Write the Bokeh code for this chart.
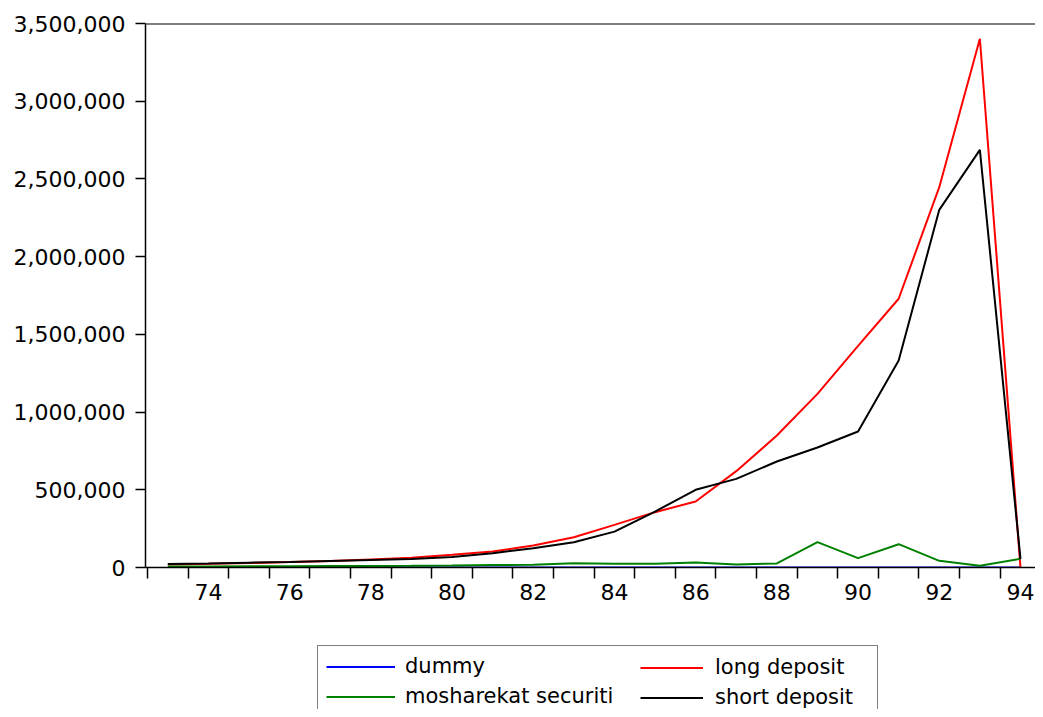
from bokeh.plotting import figure
from bokeh.layouts import column
from bokeh.models import Range1d, FixedTicker, NumeralTickFormatter, Span, Legend, LegendItem
from bokeh.embed import file_html
from bokeh.resources import INLINE

# ---- data ----
years = list(range(73, 95))
dummy = [0] * 22
long_deposit = [20000, 24000, 29000, 35000, 42000, 52000, 62000, 82000, 103000, 141000,
                195000, 274000, 356000, 425000, 620000, 849000, 1117000, 1426000,
                1729000, 2447000, 3402000, 0]
mosharekat_securiti = [6000, 7000, 8000, 8000, 9000, 10000, 11000, 13000, 16000, 18000,
                       27000, 24000, 24000, 32000, 19000, 26000, 163000, 60000, 150000,
                       43000, 11000, 56000]
short_deposit = [22000, 26000, 31000, 36000, 42000, 48000, 54000, 68000, 92000, 124000,
                 163000, 231000, 360000, 500000, 570000, 682000, 772000, 875000, 1332000,
                 2301000, 2687000, 56000]
y_ticks = [0, 500000, 1000000, 1500000, 2000000, 2500000, 3000000, 3500000]
x_label_years = [74, 76, 78, 80, 82, 84, 86, 88, 90, 92, 94]
x_minor_ticks = [y + 0.5 for y in range(72, 95)]

FONT = "DejaVu Sans"
W = 1035
MAIN_H = 622
TOTAL_H = 709

p = figure(width=W, height=MAIN_H, output_backend="svg", toolbar_location=None,
           x_range=Range1d(72.45, 94.37), y_range=Range1d(0, 3500000),
           min_border_left=145, min_border_right=0, min_border_top=23,
           min_border_bottom=MAIN_H - 567,
           background_fill_color="white", border_fill_color="white")
p.outline_line_color = None
p.xgrid.visible = False
p.ygrid.visible = False

r_dummy = p.line(years, dummy, line_color="#0000ff", line_width=2)
r_long = p.line(years, long_deposit, line_color="#ff0000", line_width=2)
r_mosh = p.line(years, mosharekat_securiti, line_color="#008000", line_width=2)
r_short = p.line(years, short_deposit, line_color="#000000", line_width=2)

# top border line
p.add_layout(Span(location=3500000, dimension="width", line_color="black", line_width=2))

# y axis
ya = p.yaxis[0]
ya.ticker = FixedTicker(ticks=y_ticks, minor_ticks=[])
ya.formatter = NumeralTickFormatter(format="0,0")
ya.major_tick_in = 0
ya.major_tick_out = 10
ya.minor_tick_in = 0
ya.minor_tick_out = 0
ya.major_label_standoff = 10
ya.axis_line_width = 1.5
ya.major_tick_line_width = 1.5
ya.major_label_text_font = FONT
ya.major_label_text_font_size = "22px"
ya.major_label_text_color = "black"
ya.axis_line_color = "black"
ya.major_tick_line_color = "black"

# x axis
xa = p.xaxis[0]
xa.ticker = FixedTicker(ticks=x_label_years, minor_ticks=x_minor_ticks)
xa.major_tick_in = 0
xa.major_tick_out = 0
xa.minor_tick_in = 0
xa.minor_tick_out = 11
xa.minor_tick_line_width = 1.5
xa.minor_tick_line_color = "black"
xa.axis_line_width = 1.5
xa.axis_line_color = "black"
xa.major_label_standoff = 5
xa.major_label_text_font = FONT
xa.major_label_text_font_size = "22px"
xa.major_label_text_color = "black"

# ---- legend panel below the chart ----
lg = figure(width=W, height=TOTAL_H - MAIN_H, output_backend="svg", toolbar_location=None,
            x_range=Range1d(0, 1), y_range=Range1d(0, 1),
            min_border_left=0, min_border_right=0, min_border_top=0, min_border_bottom=0,
            background_fill_color="white", border_fill_color="white")
lg.outline_line_color = None
lg.axis.visible = False
lg.grid.visible = False
# same series drawn off-range here: only their legend glyphs are visible
l_dummy = lg.line(years, dummy, line_color="#0000ff", line_width=2)
l_long = lg.line(years, long_deposit, line_color="#ff0000", line_width=2)
l_mosh = lg.line(years, mosharekat_securiti, line_color="#008000", line_width=2)
l_short = lg.line(years, short_deposit, line_color="#000000", line_width=2)


def style_legend(leg, glyph_w, standoff):
    leg.label_text_font = FONT
    leg.label_text_font_size = "21px"
    leg.label_text_line_height = 1.0
    leg.label_text_color = "black"
    leg.glyph_width = glyph_w
    leg.glyph_height = 21
    leg.label_height = 21
    leg.label_standoff = standoff
    leg.padding = 8
    leg.spacing = 6
    leg.margin = 0


# first column: carries the frame of the whole legend box
legend_a = Legend(items=[
    LegendItem(label="dummy", renderers=[l_dummy]),
    LegendItem(label="mosharekat securiti", renderers=[l_mosh]),
], location=(172, -8), orientation="vertical")
style_legend(legend_a, 69, 10)
legend_a.label_width = 464
legend_a.border_line_color = "black"
legend_a.border_line_width = 1.5
legend_a.background_fill_color = "white"
legend_a.background_fill_alpha = 1
lg.add_layout(legend_a, "center")

# second column: drawn inside the same box
legend_b = Legend(items=[
    LegendItem(label="long deposit", renderers=[l_long]),
    LegendItem(label="short deposit", renderers=[l_short]),
], location=(495, 0), orientation="vertical")
style_legend(legend_b, 63, 12)
legend_b.border_line_color = None
legend_b.background_fill_alpha = 0
lg.add_layout(legend_b, "center")

layout = column(p, lg, spacing=0)
open("out.html", "w").write(file_html(layout, INLINE))
